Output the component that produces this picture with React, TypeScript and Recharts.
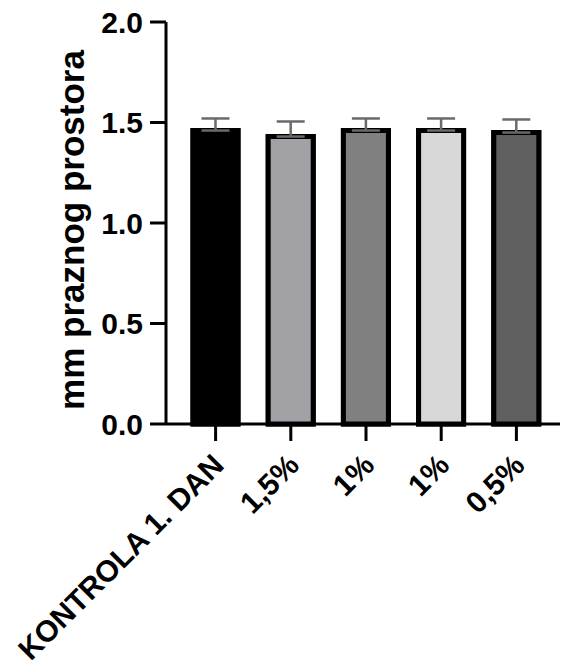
import React from "react";
import { BarChart, Bar, XAxis, YAxis, ErrorBar, Cell } from "recharts";

const categories = ["KONTROLA 1. DAN", "1,5%", "1%", "1%", "0,5%"];
const means = [1.46, 1.43, 1.46, 1.46, 1.45];
const errors = [0.06, 0.075, 0.06, 0.06, 0.065];
const fills = ["#000000", "#a2a1a6", "#808080", "#d8d8d8", "#5f5f5f"];
const yTicks = [0, 0.5, 1.0, 1.5, 2.0];

const data = categories.map((name, i) => ({
  name,
  value: means[i],
  err: [0, errors[i]],
}));

const font = "'Liberation Sans', Arial, Helvetica, sans-serif";

const XTick = (props: any) => {
  const { x, y, payload } = props;
  const tx = x + 10;
  const ty = y + 24;
  return (
    <text
      x={tx}
      y={ty}
      transform={`rotate(-45, ${tx}, ${ty})`}
      textAnchor="end"
      fontFamily={font}
      fontWeight="bold"
      fontSize={30}
      fill="#000"
    >
      {payload.value}
    </text>
  );
};

const YLabel = () => (
  <text
    x={84}
    y={230}
    transform="rotate(-90, 84, 230)"
    textAnchor="middle"
    fontFamily={font}
    fontWeight="bold"
    fontSize={35}
    fill="#000"
  >
    mm praznog prostora
  </text>
);

export default function App() {
  return (
    <div style={{ position: "fixed", left: 0, top: 0, width: 562, height: 664, background: "#fff" }}>
      <BarChart
        width={562}
        height={664}
        data={data}
        margin={{ top: 22, right: 2, bottom: 0, left: 0 }}
      >
        <XAxis
          dataKey="name"
          xAxisId="main"
          height={240}
          padding={{ left: 12, right: 6 }}
          axisLine={{ stroke: "#000", strokeWidth: 3 }}
          tickLine={{ stroke: "#000", strokeWidth: 3 }}
          tickSize={17}
          tickMargin={2}
          interval={0}
          tick={<XTick />}
        />
        <XAxis dataKey="name" xAxisId="cover" hide height={0} padding={{ left: 12, right: 6 }} />
        <YAxis
          width={166}
          domain={[0, 2]}
          ticks={yTicks}
          tickFormatter={(v: number) => v.toFixed(1)}
          axisLine={{ stroke: "#000", strokeWidth: 3 }}
          tickLine={{ stroke: "#000", strokeWidth: 3 }}
          tickSize={16}
          tickMargin={7}
          tick={{ fontFamily: font, fontWeight: "bold", fontSize: 30, fill: "#000" }}
          label={<YLabel />}
        />
        <Bar
          dataKey="value"
          xAxisId="main"
          barSize={45}
          isAnimationActive={false}
          fill="#000"
          stroke="#000"
          strokeWidth={5}
        >
          <ErrorBar dataKey="err" width={14} stroke="#6a6a6a" strokeWidth={2.5} direction="y" />
        </Bar>
        <Bar
          dataKey="value"
          xAxisId="cover"
          barSize={45}
          isAnimationActive={false}
          stroke="#000"
          strokeWidth={5}
        >
          {data.map((d, i) => (
            <Cell key={d.name + i} fill={fills[i]} />
          ))}
        </Bar>
      </BarChart>
    </div>
  );
}
